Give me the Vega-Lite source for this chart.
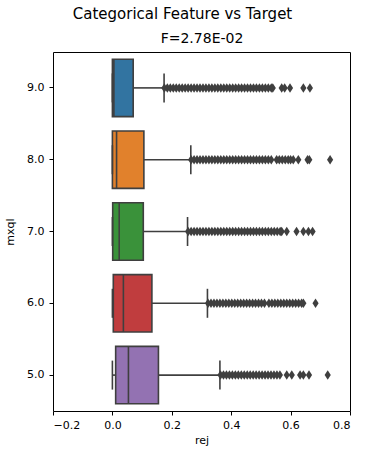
{
  "$schema": "https://vega.github.io/schema/vega-lite/v6.json",
  "width": 297,
  "height": 359,
  "padding": {"left": 4, "top": 7, "right": 10, "bottom": 5},
  "title": {
    "text": "Categorical Feature vs Target",
    "anchor": "middle",
    "frame": "bounds",
    "font": "DejaVu Sans",
    "fontSize": 15,
    "fontWeight": "normal",
    "color": "#000",
    "offset": 9,
    "dx": 5
  },
  "datasets": {
    "boxes": [
      {"mxql": "9.0", "lo": 0.0, "q1": 0.0, "med": 0.005, "q3": 0.070, "hi": 0.174},
      {"mxql": "8.0", "lo": 0.0, "q1": 0.0, "med": 0.014, "q3": 0.106, "hi": 0.264},
      {"mxql": "7.0", "lo": 0.0, "q1": 0.001, "med": 0.023, "q3": 0.104, "hi": 0.253},
      {"mxql": "6.0", "lo": 0.0, "q1": 0.003, "med": 0.037, "q3": 0.133, "hi": 0.320},
      {"mxql": "5.0", "lo": 0.0, "q1": 0.011, "med": 0.054, "q3": 0.155, "hi": 0.362}
    ],
    "outliers": [
      {"mxql": "9.0", "rej": 0.175}, {"mxql": "9.0", "rej": 0.185}, {"mxql": "9.0", "rej": 0.195}, {"mxql": "9.0", "rej": 0.205}, {"mxql": "9.0", "rej": 0.215}, {"mxql": "9.0", "rej": 0.225}, {"mxql": "9.0", "rej": 0.235}, {"mxql": "9.0", "rej": 0.245}, {"mxql": "9.0", "rej": 0.255}, {"mxql": "9.0", "rej": 0.265}, {"mxql": "9.0", "rej": 0.275}, {"mxql": "9.0", "rej": 0.285}, {"mxql": "9.0", "rej": 0.295}, {"mxql": "9.0", "rej": 0.305}, {"mxql": "9.0", "rej": 0.315}, {"mxql": "9.0", "rej": 0.325}, {"mxql": "9.0", "rej": 0.335}, {"mxql": "9.0", "rej": 0.345}, {"mxql": "9.0", "rej": 0.355}, {"mxql": "9.0", "rej": 0.365}, {"mxql": "9.0", "rej": 0.375}, {"mxql": "9.0", "rej": 0.385}, {"mxql": "9.0", "rej": 0.395}, {"mxql": "9.0", "rej": 0.405}, {"mxql": "9.0", "rej": 0.415}, {"mxql": "9.0", "rej": 0.425}, {"mxql": "9.0", "rej": 0.435}, {"mxql": "9.0", "rej": 0.445}, {"mxql": "9.0", "rej": 0.455}, {"mxql": "9.0", "rej": 0.465}, {"mxql": "9.0", "rej": 0.475}, {"mxql": "9.0", "rej": 0.485}, {"mxql": "9.0", "rej": 0.495}, {"mxql": "9.0", "rej": 0.505}, {"mxql": "9.0", "rej": 0.515}, {"mxql": "9.0", "rej": 0.525}, {"mxql": "9.0", "rej": 0.535}, {"mxql": "9.0", "rej": 0.54}, {"mxql": "9.0", "rej": 0.57}, {"mxql": "9.0", "rej": 0.58}, {"mxql": "9.0", "rej": 0.598}, {"mxql": "9.0", "rej": 0.643}, {"mxql": "9.0", "rej": 0.665},
      {"mxql": "8.0", "rej": 0.265}, {"mxql": "8.0", "rej": 0.275}, {"mxql": "8.0", "rej": 0.285}, {"mxql": "8.0", "rej": 0.295}, {"mxql": "8.0", "rej": 0.305}, {"mxql": "8.0", "rej": 0.315}, {"mxql": "8.0", "rej": 0.325}, {"mxql": "8.0", "rej": 0.335}, {"mxql": "8.0", "rej": 0.345}, {"mxql": "8.0", "rej": 0.355}, {"mxql": "8.0", "rej": 0.365}, {"mxql": "8.0", "rej": 0.375}, {"mxql": "8.0", "rej": 0.385}, {"mxql": "8.0", "rej": 0.395}, {"mxql": "8.0", "rej": 0.405}, {"mxql": "8.0", "rej": 0.415}, {"mxql": "8.0", "rej": 0.425}, {"mxql": "8.0", "rej": 0.435}, {"mxql": "8.0", "rej": 0.445}, {"mxql": "8.0", "rej": 0.455}, {"mxql": "8.0", "rej": 0.465}, {"mxql": "8.0", "rej": 0.475}, {"mxql": "8.0", "rej": 0.485}, {"mxql": "8.0", "rej": 0.495}, {"mxql": "8.0", "rej": 0.505}, {"mxql": "8.0", "rej": 0.515}, {"mxql": "8.0", "rej": 0.525}, {"mxql": "8.0", "rej": 0.535}, {"mxql": "8.0", "rej": 0.553}, {"mxql": "8.0", "rej": 0.562}, {"mxql": "8.0", "rej": 0.572}, {"mxql": "8.0", "rej": 0.582}, {"mxql": "8.0", "rej": 0.592}, {"mxql": "8.0", "rej": 0.6}, {"mxql": "8.0", "rej": 0.609}, {"mxql": "8.0", "rej": 0.626}, {"mxql": "8.0", "rej": 0.657}, {"mxql": "8.0", "rej": 0.663}, {"mxql": "8.0", "rej": 0.733},
      {"mxql": "7.0", "rej": 0.255}, {"mxql": "7.0", "rej": 0.265}, {"mxql": "7.0", "rej": 0.275}, {"mxql": "7.0", "rej": 0.285}, {"mxql": "7.0", "rej": 0.295}, {"mxql": "7.0", "rej": 0.305}, {"mxql": "7.0", "rej": 0.315}, {"mxql": "7.0", "rej": 0.325}, {"mxql": "7.0", "rej": 0.335}, {"mxql": "7.0", "rej": 0.345}, {"mxql": "7.0", "rej": 0.355}, {"mxql": "7.0", "rej": 0.365}, {"mxql": "7.0", "rej": 0.375}, {"mxql": "7.0", "rej": 0.385}, {"mxql": "7.0", "rej": 0.395}, {"mxql": "7.0", "rej": 0.405}, {"mxql": "7.0", "rej": 0.415}, {"mxql": "7.0", "rej": 0.425}, {"mxql": "7.0", "rej": 0.435}, {"mxql": "7.0", "rej": 0.445}, {"mxql": "7.0", "rej": 0.455}, {"mxql": "7.0", "rej": 0.465}, {"mxql": "7.0", "rej": 0.475}, {"mxql": "7.0", "rej": 0.485}, {"mxql": "7.0", "rej": 0.495}, {"mxql": "7.0", "rej": 0.505}, {"mxql": "7.0", "rej": 0.515}, {"mxql": "7.0", "rej": 0.525}, {"mxql": "7.0", "rej": 0.535}, {"mxql": "7.0", "rej": 0.545}, {"mxql": "7.0", "rej": 0.555}, {"mxql": "7.0", "rej": 0.565}, {"mxql": "7.0", "rej": 0.57}, {"mxql": "7.0", "rej": 0.587}, {"mxql": "7.0", "rej": 0.62}, {"mxql": "7.0", "rej": 0.643}, {"mxql": "7.0", "rej": 0.66}, {"mxql": "7.0", "rej": 0.674},
      {"mxql": "6.0", "rej": 0.322}, {"mxql": "6.0", "rej": 0.332}, {"mxql": "6.0", "rej": 0.342}, {"mxql": "6.0", "rej": 0.352}, {"mxql": "6.0", "rej": 0.362}, {"mxql": "6.0", "rej": 0.372}, {"mxql": "6.0", "rej": 0.382}, {"mxql": "6.0", "rej": 0.392}, {"mxql": "6.0", "rej": 0.402}, {"mxql": "6.0", "rej": 0.412}, {"mxql": "6.0", "rej": 0.422}, {"mxql": "6.0", "rej": 0.432}, {"mxql": "6.0", "rej": 0.442}, {"mxql": "6.0", "rej": 0.452}, {"mxql": "6.0", "rej": 0.462}, {"mxql": "6.0", "rej": 0.472}, {"mxql": "6.0", "rej": 0.482}, {"mxql": "6.0", "rej": 0.492}, {"mxql": "6.0", "rej": 0.502}, {"mxql": "6.0", "rej": 0.512}, {"mxql": "6.0", "rej": 0.527}, {"mxql": "6.0", "rej": 0.537}, {"mxql": "6.0", "rej": 0.547}, {"mxql": "6.0", "rej": 0.557}, {"mxql": "6.0", "rej": 0.567}, {"mxql": "6.0", "rej": 0.577}, {"mxql": "6.0", "rej": 0.587}, {"mxql": "6.0", "rej": 0.597}, {"mxql": "6.0", "rej": 0.607}, {"mxql": "6.0", "rej": 0.617}, {"mxql": "6.0", "rej": 0.627}, {"mxql": "6.0", "rej": 0.637}, {"mxql": "6.0", "rej": 0.643}, {"mxql": "6.0", "rej": 0.684},
      {"mxql": "5.0", "rej": 0.364}, {"mxql": "5.0", "rej": 0.374}, {"mxql": "5.0", "rej": 0.384}, {"mxql": "5.0", "rej": 0.394}, {"mxql": "5.0", "rej": 0.404}, {"mxql": "5.0", "rej": 0.414}, {"mxql": "5.0", "rej": 0.424}, {"mxql": "5.0", "rej": 0.434}, {"mxql": "5.0", "rej": 0.444}, {"mxql": "5.0", "rej": 0.454}, {"mxql": "5.0", "rej": 0.464}, {"mxql": "5.0", "rej": 0.474}, {"mxql": "5.0", "rej": 0.484}, {"mxql": "5.0", "rej": 0.494}, {"mxql": "5.0", "rej": 0.504}, {"mxql": "5.0", "rej": 0.514}, {"mxql": "5.0", "rej": 0.524}, {"mxql": "5.0", "rej": 0.534}, {"mxql": "5.0", "rej": 0.544}, {"mxql": "5.0", "rej": 0.554}, {"mxql": "5.0", "rej": 0.564}, {"mxql": "5.0", "rej": 0.587}, {"mxql": "5.0", "rej": 0.604}, {"mxql": "5.0", "rej": 0.632}, {"mxql": "5.0", "rej": 0.643}, {"mxql": "5.0", "rej": 0.662}, {"mxql": "5.0", "rej": 0.725}
    ]
  },
  "encoding": {
    "y": {
      "field": "mxql",
      "type": "ordinal",
      "sort": ["9.0", "8.0", "7.0", "6.0", "5.0"],
      "scale": {"paddingInner": 0.2, "paddingOuter": 0.1},
      "axis": {"title": "mxql", "labelPadding": 5, "titlePadding": 11}
    }
  },
  "layer": [
    {
      "data": {"name": "boxes"},
      "mark": {"type": "rule", "color": "#3f3f3f", "strokeWidth": 1.6},
      "encoding": {
        "x": {"field": "q3", "type": "quantitative", "scale": {"domain": [-0.2, 0.8], "nice": false, "zero": false}, "axis": null},
        "x2": {"field": "hi"}
      }
    },
    {
      "data": {"name": "boxes"},
      "mark": {"type": "rule", "color": "#3f3f3f", "strokeWidth": 1.6},
      "encoding": {
        "x": {"field": "lo", "type": "quantitative", "axis": null},
        "x2": {"field": "q1"}
      }
    },
    {
      "data": {"name": "boxes"},
      "mark": {"type": "bar", "stroke": "#3f3f3f", "strokeWidth": 1.6},
      "encoding": {
        "x": {
          "field": "q1",
          "type": "quantitative",
          "axis": {"title": "rej", "values": [-0.2, 0, 0.2, 0.4, 0.6, 0.8], "format": ".1f", "labelPadding": 4, "titlePadding": 4}
        },
        "x2": {"field": "q3"},
        "color": {
          "field": "mxql",
          "type": "nominal",
          "scale": {"domain": ["9.0", "8.0", "7.0", "6.0", "5.0"], "range": ["#3274a1", "#e1812c", "#3a923a", "#c03d3e", "#9372b2"]},
          "legend": null
        }
      }
    },
    {
      "data": {"name": "boxes"},
      "mark": {"type": "tick", "color": "#3f3f3f", "thickness": 1.6, "size": 57.4, "opacity": 1},
      "encoding": {
        "x": {
          "field": "med",
          "type": "quantitative",
          "axis": {"orient": "top", "title": "F=2.78E-02", "labels": false, "ticks": false, "domain": false, "titleFontSize": 14, "titlePadding": 7}
        }
      }
    },
    {
      "data": {"name": "boxes"},
      "mark": {"type": "tick", "color": "#3f3f3f", "thickness": 1.6, "size": 29, "opacity": 1},
      "encoding": {
        "x": {"field": "hi", "type": "quantitative", "axis": null}
      }
    },
    {
      "data": {"name": "boxes"},
      "mark": {"type": "tick", "color": "#3f3f3f", "thickness": 1.6, "size": 29, "opacity": 1},
      "encoding": {
        "x": {"field": "lo", "type": "quantitative", "axis": null}
      }
    },
    {
      "data": {"name": "outliers"},
      "mark": {"type": "point", "shape": "M0,-1L0.65,0L0,1L-0.65,0Z", "filled": true, "color": "#3f3f3f", "size": 90, "opacity": 1},
      "encoding": {
        "x": {"field": "rej", "type": "quantitative", "axis": null}
      }
    }
  ],
  "resolve": {"axis": {"x": "independent"}},
  "config": {
    "font": "DejaVu Sans",
    "view": {"stroke": "#000", "strokeWidth": 1},
    "axis": {
      "grid": false,
      "domain": false,
      "labelFont": "DejaVu Sans",
      "labelFontSize": 11,
      "labelColor": "#000",
      "tickColor": "#000",
      "tickSize": 4,
      "titleFont": "DejaVu Sans",
      "titleFontSize": 11,
      "titleFontWeight": "normal",
      "titleColor": "#000"
    }
  }
}
